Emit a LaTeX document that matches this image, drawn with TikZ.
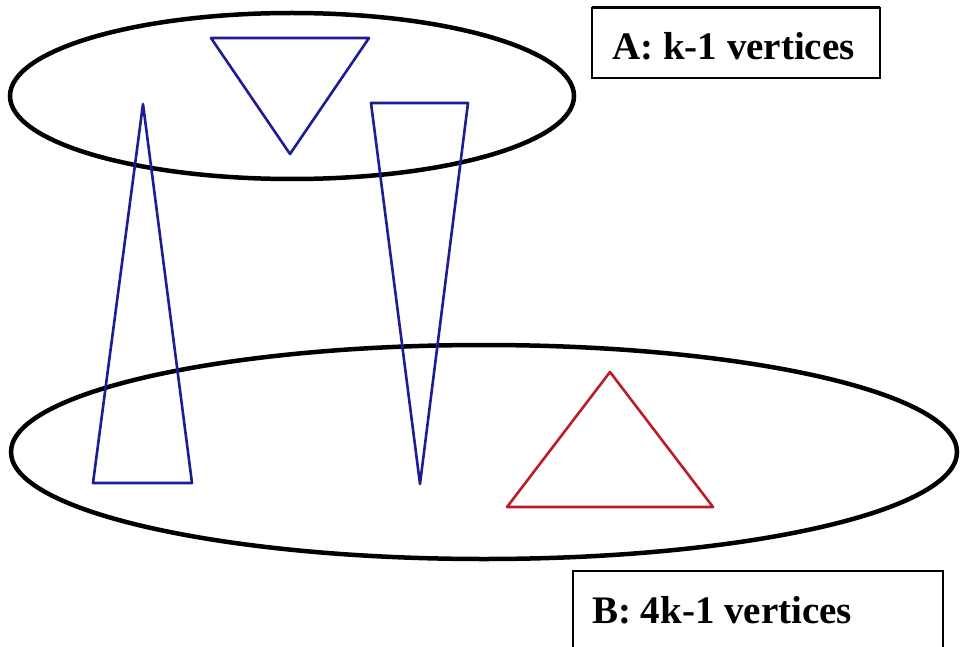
\documentclass[tikz,border=0pt]{standalone}
\usepackage{fontspec}
\setmainfont{Liberation Serif}
\begin{document}
\begin{tikzpicture}[x=1pt,y=-1pt,
  setline/.style={line width=4.5pt,black},
  bluetri/.style={line width=2.6pt,draw=triblue,line join=round},
  redtri/.style={line width=2.6pt,draw=trired,line join=round},
  labelbox/.style={draw=black,line width=1.5pt},
  labeltext/.style={font=\fontsize{39}{41}\selectfont\bfseries,anchor=base west,inner sep=0pt}]
\definecolor{triblue}{RGB}{28,28,150}
\definecolor{trired}{RGB}{185,30,40}
\useasboundingbox (0,0) rectangle (960,647);
\fill[white] (0,0) rectangle (960,647);
% sets
\draw[setline] (292,96) ellipse [x radius=282, y radius=83];
\draw[setline] (484,452) ellipse [x radius=473, y radius=107];
% triangles
\draw[bluetri] (211,38) -- (369,38) -- (290,154) -- cycle;
\draw[bluetri] (143,104) -- (192,483) -- (93,483) -- cycle;
\draw[bluetri] (371,103) -- (468,103) -- (420,484) -- cycle;
\draw[redtri] (610,372) -- (713,507) -- (507,507) -- cycle;
% labels
\draw[labelbox] (592,78) -- (592,8) -- (880,8) -- (880,78) -- cycle;
\draw[line width=3pt] (592,8) -- (880,8);
\node[labeltext] (la) at (612,60) {A: k-1 vertices};
\draw[labelbox] (573,650) -- (573,571) -- (943,571) -- (943,650);
\node[labeltext] (lb) at (592,623) {B: 4k-1 vertices};
\end{tikzpicture}
\end{document}
